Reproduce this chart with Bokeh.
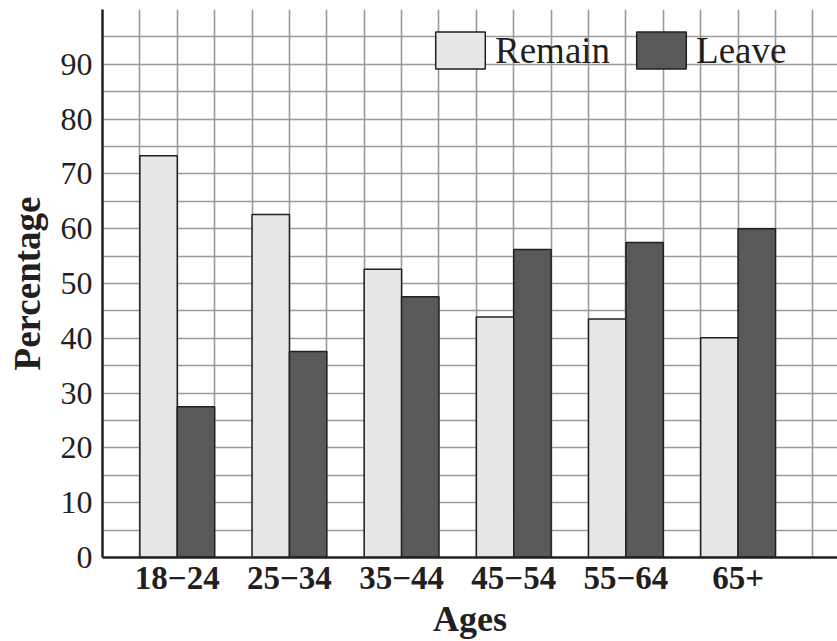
from bokeh.plotting import figure
from bokeh.models import (Range1d, FixedTicker, SingleIntervalTicker, Legend,
                          LegendItem, ColumnDataSource)
from bokeh.embed import file_html
from bokeh.resources import INLINE

# ---- data ----
ages = ["18\u221224", "25\u221234", "35\u221244", "45\u221254", "55\u221264", "65+"]
remain = [73.3, 62.6, 52.6, 43.9, 43.5, 40.1]
leave = [27.5, 37.6, 47.6, 56.2, 57.5, 60.0]
series_names = ["Remain", "Leave"]
y_ticks = [0, 10, 20, 30, 40, 50, 60, 70, 80, 90]

# ---- layout helpers (grid cells of 1 unit; each group = 3 cells) ----
group_pos = [2 + 3 * i for i in range(len(ages))]
src = ColumnDataSource(dict(
    x_r=[g - 0.5 for g in group_pos],
    x_l=[g + 0.5 for g in group_pos],
    remain=remain,
    leave=leave,
))

FONT = "Liberation Serif"
INK = "#231f20"

p = figure(width=837, height=641,
           x_range=Range1d(0, 19.66), y_range=Range1d(0, 100),
           output_backend="svg", toolbar_location=None,
           min_border_left=102, min_border_right=0,
           min_border_top=9, min_border_bottom=84)
p.outline_line_color = None
p.background_fill_color = "white"
p.border_fill_color = "white"

# grids
p.xgrid.ticker = SingleIntervalTicker(interval=1)
p.ygrid.ticker = SingleIntervalTicker(interval=5)
for g in (p.xgrid, p.ygrid):
    g.grid_line_color = "#9a9a9a"
    g.grid_line_width = 1.6

# bars
r1 = p.vbar(x="x_r", top="remain", width=1, source=src,
            fill_color="#e6e7e8", line_color=INK, line_width=1.5)
r2 = p.vbar(x="x_l", top="leave", width=1, source=src,
            fill_color="#58595b", line_color=INK, line_width=1.5)

# y axis
ya = p.yaxis[0]
ya.ticker = FixedTicker(ticks=y_ticks)
ya.major_tick_line_color = None
ya.minor_tick_line_color = None
ya.axis_line_color = INK
ya.axis_line_width = 2.5
ya.major_label_text_font = FONT
ya.major_label_text_font_size = "32px"
ya.major_label_text_color = INK
ya.major_label_standoff = 4
ya.axis_label = "Percentage"
ya.axis_label_text_font = FONT
ya.axis_label_text_font_style = "bold"
ya.axis_label_text_font_size = "37px"
ya.axis_label_text_color = INK
ya.axis_label_standoff = 10

# x axis
xa = p.xaxis[0]
xa.ticker = FixedTicker(ticks=group_pos)
xa.major_label_overrides = {g: lab for g, lab in zip(group_pos, ages)}
xa.major_tick_line_color = None
xa.minor_tick_line_color = None
xa.axis_line_color = INK
xa.axis_line_width = 2.5
xa.major_label_text_font = FONT
xa.major_label_text_font_style = "bold"
xa.major_label_text_font_size = "33px"
xa.major_label_text_color = INK
xa.major_label_standoff = 3
xa.axis_label = "Ages"
xa.axis_label_text_font = FONT
xa.axis_label_text_font_style = "bold"
xa.axis_label_text_font_size = "36px"
xa.axis_label_text_color = INK
xa.axis_label_standoff = 7

# legend (bar legend glyphs are drawn inset by 10% on each side)
legend = Legend(items=[LegendItem(label=series_names[0], renderers=[r1]),
                       LegendItem(label=series_names[1], renderers=[r2])],
                orientation="horizontal", location=(327, 484))
legend.background_fill_alpha = 0
legend.border_line_color = None
legend.padding = 0
legend.margin = 0
legend.spacing = 20
legend.glyph_width = 62
legend.glyph_height = 46
legend.label_height = 46
legend.label_standoff = 4
legend.label_text_font = FONT
legend.label_text_font_size = "37px"
legend.label_text_color = INK
p.add_layout(legend, "center")

open("out.html", "w").write(file_html(p, INLINE))
